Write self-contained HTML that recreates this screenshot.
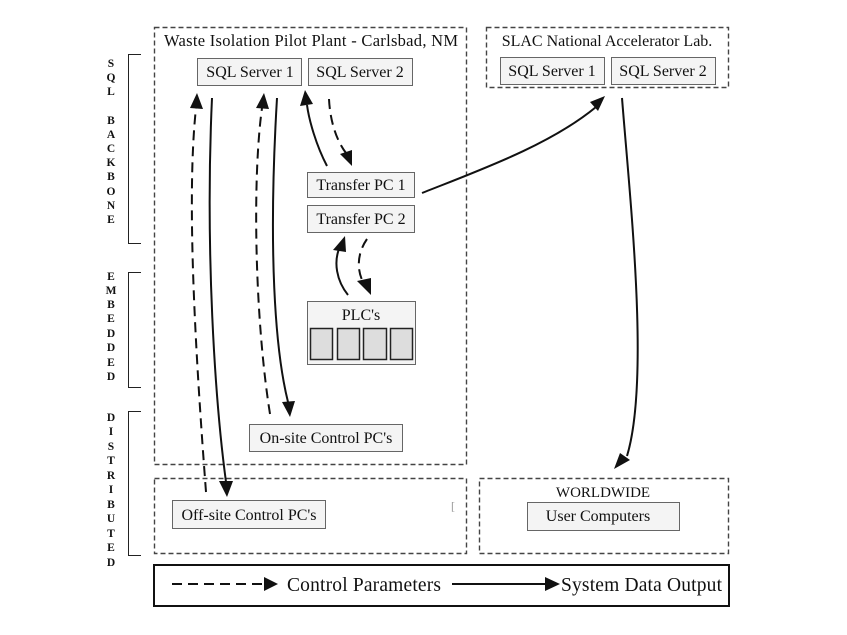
<!DOCTYPE html>
<html><head><meta charset="utf-8"><style>
html,body{margin:0;padding:0;background:#fff;}
svg{display:block;}
text{font-family:"Liberation Serif",serif;fill:#111;}
.b{fill:#f4f4f4;stroke:#666;stroke-width:1;}
.d{fill:none;stroke:#444;stroke-width:1.4;stroke-dasharray:5,3;}
.s{fill:none;stroke:#111;stroke-width:2;}
.dl{fill:none;stroke:#111;stroke-width:2;stroke-dasharray:10,6;}
.lt{font-weight:bold;font-size:11.5px;}
</style></head><body>
<svg width="847" height="635" viewBox="0 0 847 635" xmlns="http://www.w3.org/2000/svg">

<!-- WIPP -->
<rect class="d" x="154.5" y="27.5" width="312" height="437"/>
<text x="164" y="46" font-size="16.5" textLength="294">Waste Isolation Pilot Plant - Carlsbad, NM</text>
<rect class="b" x="197.5" y="58.5" width="104" height="27"/>
<text x="250" y="77" font-size="16" text-anchor="middle">SQL Server 1</text>
<rect class="b" x="308.5" y="58.5" width="104" height="27"/>
<text x="360" y="77" font-size="16" text-anchor="middle">SQL Server 2</text>
<rect class="b" x="307.5" y="172.5" width="107" height="25"/>
<text x="361" y="190" font-size="16" text-anchor="middle">Transfer PC 1</text>
<rect class="b" x="307.5" y="205.5" width="107" height="27"/>
<text x="361" y="224" font-size="16" text-anchor="middle">Transfer PC 2</text>
<rect class="b" x="307.5" y="301.5" width="108" height="63"/>
<text x="361" y="320" font-size="16" text-anchor="middle">PLC's</text>
<g fill="#ddd" stroke="#222" stroke-width="1.5">
<rect x="310.5" y="328.5" width="22" height="31"/>
<rect x="337.5" y="328.5" width="22" height="31"/>
<rect x="363.5" y="328.5" width="23" height="31"/>
<rect x="390.5" y="328.5" width="22" height="31"/>
</g>
<rect class="b" x="249.5" y="424.5" width="153" height="27"/>
<text x="326" y="443" font-size="16" text-anchor="middle">On-site Control PC's</text>

<!-- offsite -->
<rect class="d" x="154.5" y="478.5" width="312" height="75"/>
<rect class="b" x="172.5" y="500.5" width="153" height="28"/>
<text x="249" y="520" font-size="16" text-anchor="middle">Off-site Control PC's</text>
<text x="451" y="510" font-size="12" style="fill:#999">[</text>

<!-- SLAC -->
<rect class="d" x="486.5" y="27.5" width="242" height="60"/>
<text x="607" y="46" font-size="16" text-anchor="middle">SLAC National Accelerator Lab.</text>
<rect class="b" x="500.5" y="57.5" width="104" height="27"/>
<text x="552" y="76" font-size="16" text-anchor="middle">SQL Server 1</text>
<rect class="b" x="611.5" y="57.5" width="104" height="27"/>
<text x="663" y="76" font-size="16" text-anchor="middle">SQL Server 2</text>

<!-- Worldwide -->
<rect class="d" x="479.5" y="478.5" width="249" height="75"/>
<text x="603" y="497" font-size="15" text-anchor="middle">WORLDWIDE</text>
<rect class="b" x="527.5" y="502.5" width="152" height="28"/>
<text x="598" y="521" font-size="16" text-anchor="middle">User Computers</text>

<!-- Legend -->
<rect x="154" y="565" width="575" height="41" fill="none" stroke="#111" stroke-width="2"/>
<line class="dl" x1="172" y1="584" x2="264" y2="584"/>
<path d="M264,577 L278,584 L264,591 z" fill="#111"/>
<text x="287" y="591" font-size="19.5" textLength="154">Control Parameters</text>
<line class="s" x1="452" y1="584" x2="546" y2="584"/>
<path d="M545,577 L560,584 L545,591 z" fill="#111"/>
<text x="561" y="591" font-size="19.5" textLength="161">System Data Output</text>

<!-- left labels -->
<g class="lt" text-anchor="middle">
<text x="111" y="67">S</text><text x="111" y="81">Q</text><text x="111" y="95">L</text>
<text x="111" y="124">B</text><text x="111" y="138">A</text><text x="111" y="152">C</text><text x="111" y="166">K</text><text x="111" y="180">B</text><text x="111" y="195">O</text><text x="111" y="209">N</text><text x="111" y="223">E</text>
<text x="111" y="280">E</text><text x="111" y="294">M</text><text x="111" y="308">B</text><text x="111" y="322">E</text><text x="111" y="337">D</text><text x="111" y="351">D</text><text x="111" y="366">E</text><text x="111" y="380">D</text>
<text x="111" y="421">D</text><text x="111" y="435">I</text><text x="111" y="450">S</text><text x="111" y="464">T</text><text x="111" y="479">R</text><text x="111" y="493">I</text><text x="111" y="508">B</text><text x="111" y="522">U</text><text x="111" y="537">T</text><text x="111" y="551">E</text><text x="111" y="566">D</text>
</g>
<g fill="none" stroke="#222" stroke-width="1">
<path d="M141,54.5 H128.5 V243.5 H141"/>
<path d="M141,272.5 H128.5 V387.5 H141"/>
<path d="M141,411.5 H128.5 V555.5 H141"/>
</g>

<!-- connectors -->
<path class="dl" d="M206,492 C196,360 186,200 196,108" stroke-width="1.8"/>
<path d="M190,108 L197,93 L203,109 z" fill="#111"/>
<path class="s" d="M212,98 C205,250 215,400 226,482" stroke-width="1.8"/>
<path d="M219,481 L227,497 L233,481 z" fill="#111"/>
<path class="dl" d="M270,414 C255,320 252,180 262,108" stroke-width="1.8"/>
<path d="M256,108 L264,93 L269,109 z" fill="#111"/>
<path class="s" d="M277,98 C268,250 275,350 288,402" stroke-width="1.8"/>
<path d="M282,402 L290,417 L295,401 z" fill="#111"/>
<path class="s" d="M327,166 C316,145 309,120 307,105" stroke-width="1.8"/>
<path d="M300,106 L305,90 L313,104 z" fill="#111"/>
<path class="dl" d="M329,99 C330,120 336,140 346,153" stroke-width="1.8"/>
<path d="M340,154 L352,166 L352,150 z" fill="#111"/>
<path class="s" d="M348,295 C336,280 334,262 339,249" stroke-width="1.8"/>
<path d="M333,250 L345,236 L346,252 z" fill="#111"/>
<path class="dl" d="M367,239 C358,252 356,268 363,282" stroke-width="1.8"/>
<path d="M357,281 L371,295 L371,278 z" fill="#111"/>
<path class="s" d="M422,193 C480,170 550,145 596,107" stroke-width="1.8"/>
<path d="M590,102 L605,96 L598,111 z" fill="#111"/>
<path class="s" d="M622,98 C630,200 650,380 627,456" stroke-width="1.8"/>
<path d="M620,453 L614,469 L630,460 z" fill="#111"/>
</svg>
</body></html>
